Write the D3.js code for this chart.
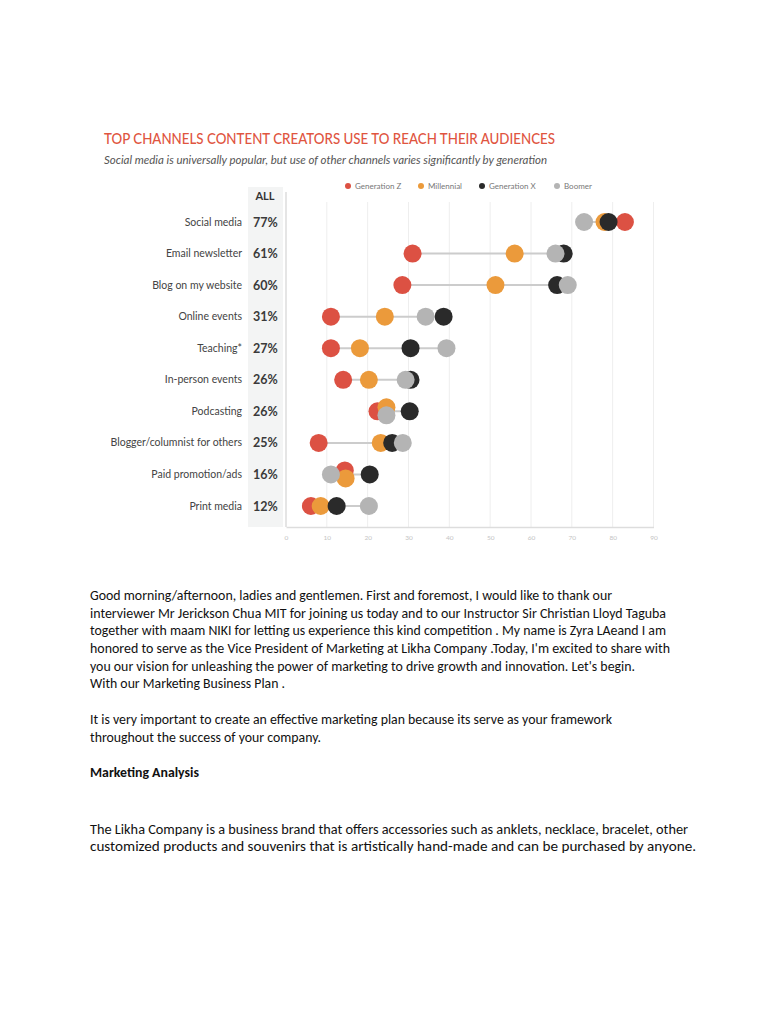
<!DOCTYPE html>
<meta charset="utf-8">
<script src="https://d3js.org/d3.v7.min.js"></script>
<style>
  body { margin: 0; background: #fff; }
</style>
<div id="page"></div>
<script>

// chart data
var channels = ["Social media", "Email newsletter", "Blog on my website", "Online events",
  "Teaching*", "In-person events", "Podcasting", "Blogger/columnist for others",
  "Paid promotion/ads", "Print media"];
var allPct     = [77, 61, 60, 31, 27, 26, 26, 25, 16, 12];
var genZ       = [83, 31, 28.5, 11, 11, 14, 22.4, 8, 14.4, 6.1];
var millennial = [78, 56, 51.3, 24.2, 18.1, 20.3, 24.6, 23.2, 14.6, 8.5];
var genX       = [79, 68, 66.4, 38.6, 30.5, 30.5, 30.3, 26, 20.5, 12.4];
var boomer     = [73, 66, 69, 34.2, 39.3, 29.3, 24.6, 28.6, 11, 20.3];
var seriesNames = ["Generation Z", "Millennial", "Generation X", "Boomer"];
var xTicks = [0, 10, 20, 30, 40, 50, 60, 70, 80, 90];

var title = "TOP CHANNELS CONTENT CREATORS USE TO REACH THEIR AUDIENCES";
var subtitle = "Social media is universally popular, but use of other channels varies significantly by generation";

var bodyLines = [
  "Good morning/afternoon, ladies and gentlemen. First and foremost, I would like to thank our",
  "interviewer  Mr Jerickson Chua MIT for joining us today and to our Instructor Sir Christian Lloyd Taguba",
  "together with maam NIKI for letting us experience this kind competition . My name is Zyra LAeand I am",
  "honored to serve as the Vice President of Marketing at Likha Company .Today, I'm excited to share with",
  "you our vision for unleashing the power of marketing to drive growth and innovation. Let's begin.",
  "With our Marketing Business Plan .",
  "It is very important to create an effective marketing plan because its serve as your framework",
  "throughout the success of your company.",
  "Marketing Analysis",
  "The Likha Company is a business brand that offers accessories such as anklets, necklace, bracelet, other",
  "customized products and souvenirs that is artistically hand-made and can be purchased by anyone."
];

// layout
var colors = ["#dc5143", "#eb9a3b", "#2a2a2a", "#b4b4b4"];
var series = [genZ, millennial, genX, boomer];

var svg = d3.select("#page").append("svg")
  .attr("width", 768)
  .attr("height", 1024);

svg.append("rect").attr("width", 768).attr("height", 1024).attr("fill", "#fff");

var x = d3.scaleLinear().domain([0, 90]).range([286, 653.5]);
var y = d3.scalePoint().domain(channels).range([222, 506]);
var plotTop = 202, plotBottom = 527;

// title + subtitle
svg.append("text")
  .attr("x", 104).attr("y", 144)
  .attr("textLength", 451).attr("lengthAdjust", "spacingAndGlyphs")
  .style("font-family", "Lato, 'Open Sans', sans-serif")
  .style("font-size", "14.5px")
  .style("font-weight", 500)
  .attr("fill", "#e0553f")
  .text(title);

svg.append("text")
  .attr("x", 104).attr("y", 164)
  .attr("textLength", 443).attr("lengthAdjust", "spacingAndGlyphs")
  .style("font-family", "Lato, 'Open Sans', sans-serif")
  .style("font-size", "11px")
  .style("font-style", "italic")
  .attr("fill", "#555")
  .text(subtitle);

// legend
var legendX = [348, 421, 482, 557];
var legend = svg.append("g");
seriesNames.forEach(function(name, i) {
  legend.append("circle")
    .attr("cx", legendX[i]).attr("cy", 186).attr("r", 3)
    .attr("fill", colors[i]);
  legend.append("text")
    .attr("x", legendX[i] + 7).attr("y", 189)
    .style("font-family", "Lato, sans-serif")
    .style("font-size", "8px")
    .attr("fill", "#777")
    .text(name);
});

// grey band for the "ALL" column
svg.append("rect")
  .attr("x", 248).attr("y", 187)
  .attr("width", 35).attr("height", plotBottom - 187)
  .attr("fill", "#f3f4f4");

svg.append("text")
  .attr("x", 265).attr("y", 200)
  .attr("text-anchor", "middle")
  .style("font-family", "Lato, sans-serif")
  .style("font-size", "11px")
  .style("font-weight", "bold")
  .attr("fill", "#333")
  .text("ALL");

// grid
svg.append("g")
  .selectAll("line")
  .data(xTicks.slice(1))
  .join("line")
    .attr("x1", function(d) { return x(d); })
    .attr("x2", function(d) { return x(d); })
    .attr("y1", plotTop).attr("y2", plotBottom)
    .attr("stroke", "#eeeeee")
    .attr("stroke-width", 1);

// x axis
var xAxis = svg.append("g")
  .attr("transform", "translate(0," + plotBottom + ")")
  .call(d3.axisBottom(x).tickValues(xTicks).tickSize(0).tickPadding(8));
xAxis.select(".domain").attr("stroke", "#dddddd").attr("stroke-width", 1.5);
xAxis.selectAll("text")
  .style("font-family", "Lato, sans-serif")
  .style("font-size", "6.5px")
  .attr("fill", "#c4c4c4");

// left axis line
svg.append("line")
  .attr("x1", x(0)).attr("x2", x(0))
  .attr("y1", plotTop - 10).attr("y2", plotBottom)
  .attr("stroke", "#dddddd").attr("stroke-width", 1.5);

// row labels
var rows = svg.append("g")
  .selectAll("g")
  .data(channels)
  .join("g")
    .attr("transform", function(d) { return "translate(0," + y(d) + ")"; });

rows.append("text")
  .attr("x", 242).attr("y", 3.5)
  .attr("text-anchor", "end")
  .style("font-family", "Lato, sans-serif")
  .style("font-size", "10.5px")
  .attr("fill", "#444")
  .text(function(d) { return d; });

rows.append("text")
  .attr("x", 253).attr("y", 4.5)
  .style("font-family", "Lato, sans-serif")
  .style("font-size", "12.5px")
  .style("font-weight", "bold")
  .attr("fill", "#3a3a3a")
  .text(function(d, i) { return allPct[i] + "%"; });

// connecting lines from min to max
rows.append("line")
  .attr("x1", function(d, i) { return x(d3.min(series, function(s) { return s[i]; })); })
  .attr("x2", function(d, i) { return x(d3.max(series, function(s) { return s[i]; })); })
  .attr("stroke", "#cccccc")
  .attr("stroke-width", 2);

// dots, drawn in series order; nearly equal values get nudged up/down
rows.each(function(d, i) {
  var g = d3.select(this);
  series.forEach(function(s, k) {
    var dy = 0;
    series.forEach(function(o, j) {
      if (j !== k && Math.abs(o[i] - s[i]) < 0.5) dy = j > k ? -4 : 4;
    });
    g.append("circle")
      .attr("cx", x(s[i]))
      .attr("cy", dy)
      .attr("r", 9)
      .attr("fill", colors[k]);
  });
});

// body text below the chart
var bodyY = [600, 617.5, 635, 653, 670.5, 688, 724, 741.5, 776.5, 833.5, 851];
var bodyW = [522, 576, 576, 580, 545, 195, 522, 231, 109, 598, 606];
svg.append("g")
  .selectAll("text")
  .data(bodyLines)
  .join("text")
    .attr("x", 90)
    .attr("y", function(d, i) { return bodyY[i]; })
    .attr("textLength", function(d, i) { return bodyW[i]; })
    .attr("lengthAdjust", "spacingAndGlyphs")
    .style("font-family", "Carlito, 'Noto Sans', sans-serif")
    .style("font-size", "13.5px")
    .style("font-weight", function(d) { return d === "Marketing Analysis" ? "bold" : "normal"; })
    .attr("fill", "#111")
    .text(function(d) { return d; });

</script>
